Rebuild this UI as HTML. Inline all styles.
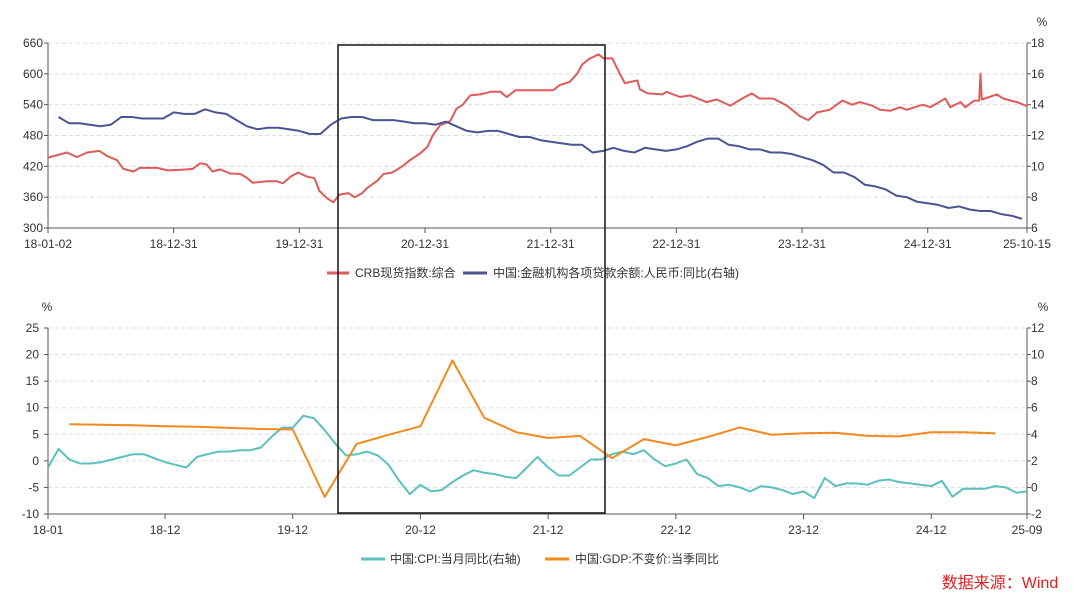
<!DOCTYPE html>
<html><head><meta charset="utf-8">
<style>
html,body{margin:0;padding:0;background:#fff;}
svg{display:block;font-family:"Liberation Sans","Noto Sans CJK SC",sans-serif;}
</style></head>
<body>
<svg id="c" width="1080" height="601" viewBox="0 0 1080 601" xmlns="http://www.w3.org/2000/svg"></svg>
<script>
// ---- top chart data ----
const crbT = [2018.00,2018.15,2018.23,2018.31,2018.41,2018.47,2018.55,2018.60,2018.68,2018.73,2018.87,2018.95,2019.05,2019.15,2019.21,2019.26,2019.31,2019.37,2019.45,2019.53,2019.58,2019.63,2019.74,2019.82,2019.87,2019.93,2019.99,2020.06,2020.12,2020.16,2020.22,2020.27,2020.32,2020.39,2020.44,2020.50,2020.54,2020.62,2020.67,2020.74,2020.82,2020.88,2020.96,2021.02,2021.06,2021.12,2021.20,2021.25,2021.30,2021.36,2021.44,2021.52,2021.60,2021.65,2021.72,2021.91,2022.02,2022.07,2022.15,2022.21,2022.25,2022.30,2022.38,2022.42,2022.49,2022.55,2022.59,2022.69,2022.71,2022.77,2022.89,2022.92,2023.03,2023.11,2023.24,2023.32,2023.43,2023.51,2023.60,2023.66,2023.77,2023.88,2023.98,2024.05,2024.12,2024.22,2024.32,2024.40,2024.46,2024.56,2024.62,2024.70,2024.78,2024.83,2024.96,2025.02,2025.14,2025.18,2025.26,2025.30,2025.37,2025.41,2025.42,2025.43,2025.55,2025.60,2025.71,2025.79];
const crbV = [437,447,438,447,450,440,432,415,410,417,417,412,413,415,426,424,410,414,406,405,398,388,391,391,387,400,408,400,397,372,358,350,365,368,360,368,378,392,405,408,420,432,445,458,480,500,508,532,540,558,560,565,565,555,568,568,568,578,584,600,618,628,638,630,630,600,582,587,570,562,560,565,555,558,545,550,538,550,562,552,552,538,518,510,525,530,548,540,545,538,530,528,535,530,540,535,552,535,545,535,548,548,600,550,560,552,545,537];
const loanV = [13.2,12.8,12.8,12.7,12.6,12.7,13.2,13.2,13.1,13.1,13.1,13.5,13.4,13.4,13.7,13.5,13.4,13.0,12.6,12.4,12.5,12.5,12.4,12.3,12.1,12.1,12.7,13.1,13.2,13.2,13.0,13.0,13.0,12.9,12.8,12.8,12.7,12.9,12.6,12.3,12.2,12.3,12.3,12.1,11.9,11.9,11.7,11.6,11.5,11.4,11.4,10.9,11.0,11.2,11.0,10.9,11.2,11.1,11.0,11.1,11.3,11.6,11.8,11.8,11.4,11.3,11.1,11.1,10.9,10.9,10.8,10.6,10.4,10.1,9.6,9.6,9.3,8.8,8.7,8.5,8.1,8.0,7.7,7.6,7.5,7.3,7.4,7.2,7.1,7.1,6.9,6.8,6.6];
const topXTicks = ["18-01-02","18-12-31","19-12-31","20-12-31","21-12-31","22-12-31","23-12-31","24-12-31","25-10-15"];
const topXTickT = [2018.0,2019.0,2020.0,2021.0,2022.0,2023.0,2024.0,2025.0,2025.79];
const topLTicks = [300,360,420,480,540,600,660];
const topRTicks = [6,8,10,12,14,16,18];
// ---- bottom chart data ----
const cpiV = [1.5,2.9,2.1,1.8,1.8,1.9,2.1,2.3,2.5,2.5,2.2,1.9,1.7,1.5,2.3,2.5,2.7,2.7,2.8,2.8,3.0,3.8,4.5,4.5,5.4,5.2,4.3,3.3,2.4,2.5,2.7,2.4,1.7,0.5,-0.5,0.2,-0.3,-0.2,0.4,0.9,1.3,1.1,1.0,0.8,0.7,1.5,2.3,1.5,0.9,0.9,1.5,2.1,2.1,2.5,2.7,2.5,2.8,2.1,1.6,1.8,2.1,1.0,0.7,0.1,0.2,0.0,-0.3,0.1,0.0,-0.2,-0.5,-0.3,-0.8,0.7,0.1,0.3,0.3,0.2,0.5,0.6,0.4,0.3,0.2,0.1,0.5,-0.7,-0.1,-0.1,-0.1,0.1,0.0,-0.4,-0.3];
const gdpV = [6.9,6.8,6.7,6.5,6.4,6.2,6.0,5.9,-6.8,3.2,4.9,6.5,18.9,8.1,5.4,4.3,4.7,0.5,4.1,2.9,4.5,6.3,4.9,5.2,5.3,4.7,4.6,5.4,5.4,5.2];
const botXTicks = ["18-01","18-12","19-12","20-12","21-12","22-12","23-12","24-12","25-09"];
const botXTickM = [0,11,23,35,47,59,71,83,92];
const botLTicks = [-10,-5,0,5,10,15,20,25];
const botRTicks = [-2,0,2,4,6,8,10,12];

const NS="http://www.w3.org/2000/svg";
const svg=document.getElementById('c');
function mk(tag,attrs,parent){const e=document.createElementNS(NS,tag);for(const k in attrs)e.setAttribute(k,attrs[k]);(parent||svg).appendChild(e);return e;}
const X0=48,X1=1027;
// top scales
const tx=t=>X0+(t-2018.0)/(2025.79-2018.0)*(X1-X0);
const tyL=v=>228-(v-300)/(660-300)*(228-43);
const tyR=v=>228-(v-6)/(18-6)*(228-43);
// bottom scales
const bx=m=>X0+m/92*(X1-X0);
const byL=v=>514-(v+10)/35*(514-328);
const byR=v=>514-(v+2)/14*(514-328);

function txt(x,y,s,anchor,size,fill){const t=mk('text',{x:x,y:y,'text-anchor':anchor||'start','font-size':size||12,fill:fill||'#333'});t.textContent=s;return t;}

// ===== TOP CHART =====
topLTicks.forEach(v=>{
  const y=tyL(v);
  if(v!==300){const g=mk('line',{x1:X0,x2:X1,y1:y,y2:y,stroke:'#ddd','stroke-dasharray':'4,3'});
  
  }
  mk('line',{x1:X0-4,x2:X0,y1:y,y2:y,stroke:'#555'});
  const t=txt(X0-5,y+4,String(v),'end');
  
  
});
topRTicks.forEach(v=>{
  const y=tyR(v);
  mk('line',{x1:X1,x2:X1+4,y1:y,y2:y,stroke:'#555'});
  const t=txt(X1+4,y+4,String(v),'start');
  
  
});
topXTicks.forEach((s,i)=>{
  const x=tx(topXTickT[i]);
  mk('line',{x1:x,x2:x,y1:228,y2:233,stroke:'#555'});
  const t=txt(x,248,s,'middle');
  
  
});
mk('line',{x1:X0,x2:X0,y1:43,y2:228,stroke:'#555'});
mk('line',{x1:X1,x2:X1,y1:43,y2:228,stroke:'#555'});
mk('line',{x1:X0,x2:X1,y1:228,y2:228,stroke:'#555'});
const pu=txt(1042,26,'%','middle');



let d=crbV.map((v,i)=>(i?'L':'M')+tx(crbT[i]).toFixed(1)+','+tyL(v).toFixed(1)).join('');
const crb=mk('path',{d:d,fill:'none',stroke:'#e05a5a','stroke-width':2,'stroke-linejoin':'round'});


d=loanV.map((v,i)=>(i?'L':'M')+tx(2018+(i+1)/12).toFixed(1)+','+tyR(v).toFixed(1)).join('');
const loan=mk('path',{d:d,fill:'none',stroke:'#4a5591','stroke-width':2,'stroke-linejoin':'round'});



// top legend
const lg1=mk('g',{});


mk('line',{x1:327,x2:349,y1:273,y2:273,stroke:'#e05a5a','stroke-width':3},lg1);
txt(355,277,'CRB现货指数:综合','start',12);
mk('line',{x1:463,x2:487,y1:273,y2:273,stroke:'#4a5591','stroke-width':3},lg1);
txt(493,277,'中国:金融机构各项贷款余额:人民币:同比(右轴)','start',12);

// ===== BOTTOM CHART =====
botLTicks.forEach(v=>{
  const y=byL(v);
  if(v!==-10){const g=mk('line',{x1:X0,x2:X1,y1:y,y2:y,stroke:'#ddd','stroke-dasharray':'4,3'});
  
  }
  mk('line',{x1:X0-4,x2:X0,y1:y,y2:y,stroke:'#555'});
  const t=txt(X0-9,y+4,String(v),'end');
  
  
});
botRTicks.forEach(v=>{
  const y=byR(v);
  mk('line',{x1:X1,x2:X1+4,y1:y,y2:y,stroke:'#555'});
  const t=txt(X1+4,y+4,String(v),'start');
  
  
});
botXTicks.forEach((s,i)=>{
  const x=bx(botXTickM[i]);
  mk('line',{x1:x,x2:x,y1:514,y2:519,stroke:'#555'});
  const t=txt(x,534,s,'middle');
  
  
});
mk('line',{x1:X0,x2:X0,y1:328,y2:514,stroke:'#555'});
mk('line',{x1:X1,x2:X1,y1:328,y2:514,stroke:'#555'});
mk('line',{x1:X0,x2:X1,y1:514,y2:514,stroke:'#555'});
const pl=txt(47,311,'%','middle');


const pr=txt(1043,311,'%','middle');



d=cpiV.map((v,i)=>(i?'L':'M')+bx(i).toFixed(1)+','+byR(v).toFixed(1)).join('');
const cpi=mk('path',{d:d,fill:'none',stroke:'#5bc0bf','stroke-width':2,'stroke-linejoin':'round'});


d=gdpV.map((v,i)=>(i?'L':'M')+bx(2+3*i).toFixed(1)+','+byL(v).toFixed(1)).join('');
const gdp=mk('path',{d:d,fill:'none',stroke:'#f28a1e','stroke-width':2,'stroke-linejoin':'round'});



// bottom legend
const lg2=mk('g',{});


mk('line',{x1:361,x2:385,y1:559,y2:559,stroke:'#5bc0bf','stroke-width':3},lg2);
txt(390,563,'中国:CPI:当月同比(右轴)','start',12);
mk('line',{x1:545,x2:569,y1:559,y2:559,stroke:'#f28a1e','stroke-width':3},lg2);
txt(575,563,'中国:GDP:不变价:当季同比','start',12);

// highlight box
const box=mk('rect',{x:338,y:45,width:267,height:468,fill:'none',stroke:'#222','stroke-width':1.6});



// source
const src=txt(1000,588,'数据来源：Wind','middle',16,'#e02020');


</script>
</body></html>
